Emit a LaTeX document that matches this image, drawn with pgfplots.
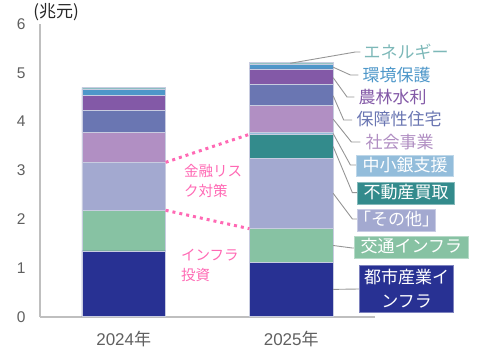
\documentclass[border=0pt]{standalone}
\usepackage{pgfplots}
\pgfplotsset{compat=1.18}
\usepackage{fontspec}
\setmainfont{Liberation Sans}
\newfontfamily\cjk{Noto Sans CJK JP}
\definecolor{cToshi}{HTML}{283193}
\definecolor{cKotsu}{HTML}{87C2A3}
\definecolor{cSonota}{HTML}{A3A9D0}
\definecolor{cFudo}{HTML}{338B8C}
\definecolor{cChusho}{HTML}{93BDDB}
\definecolor{cShakai}{HTML}{B18FC3}
\definecolor{cHosho}{HTML}{6A76B2}
\definecolor{cNorin}{HTML}{8359A7}
\definecolor{cKankyo}{HTML}{4E97C9}
\definecolor{cEne}{HTML}{93C4C2}
\definecolor{cEneT}{HTML}{7DB8B8}
\definecolor{sepc}{HTML}{C8CCE0}
\definecolor{axisgray}{HTML}{BFBFBF}
\definecolor{tickgray}{HTML}{606060}
\definecolor{leadgray}{HTML}{969696}
\definecolor{pinkc}{HTML}{FF69B4}
\begin{document}
\begin{tikzpicture}
\begin{axis}[
  at={(40pt,39.3pt)}, anchor=south west, scale only axis,
  width=335pt, height=292.7pt,
  xmin=-0.5, xmax=1.5, ymin=0, ymax=6,
  ybar stacked, bar width=0.5,
  axis x line=bottom, axis y line=left,
  axis line style={draw=axisgray, line width=2pt, -},
  xtick={0,1}, xticklabels={2024{\cjk 年},2025{\cjk 年}},
  ytick={0,1,2,3,4,5,6},
  major tick length=0pt,
  tick style={draw=none},
  ticklabel style={text=tickgray},
  yticklabel style={font=\fontsize{15.5}{15.5}\selectfont, xshift=-11pt},
  xticklabel style={font=\fontsize{17}{17}\selectfont, yshift=-11pt},
  /pgf/number format/assume math mode=true,
  clip=false,
]
\addplot[fill=cToshi, draw=sepc, line width=0.6pt] coordinates {(0,1.35) (1,1.12)};
\addplot[fill=cKotsu, draw=sepc, line width=0.6pt] coordinates {(0,0.83) (1,0.69)};
\addplot[fill=cSonota, draw=sepc, line width=0.6pt] coordinates {(0,0.98) (1,1.44)};
\addplot[fill=cFudo, draw=sepc, line width=0.6pt] coordinates {(0,0) (1,0.49)};
\addplot[fill=cChusho, draw=sepc, line width=0.6pt] coordinates {(0,0) (1,0.04)};
\addplot[fill=cShakai, draw=sepc, line width=0.6pt] coordinates {(0,0.62) (1,0.55)};
\addplot[fill=cHosho, draw=sepc, line width=0.6pt] coordinates {(0,0.45) (1,0.43)};
\addplot[fill=cNorin, draw=sepc, line width=0.6pt] coordinates {(0,0.31) (1,0.32)};
\addplot[fill=cKankyo, draw=sepc, line width=0.6pt] coordinates {(0,0.13) (1,0.10)};
\addplot[fill=cEne, draw=sepc, line width=0.6pt] coordinates {(0,0.03) (1,0.03)};
\end{axis}
\begin{axis}[
  at={(40pt,39.3pt)}, anchor=south west, scale only axis,
  width=335pt, height=292.7pt,
  xmin=-0.5, xmax=1.5, ymin=0, ymax=6,
  hide axis, clip=false,
]
% pink dotted connectors
\addplot[pinkc, line width=3pt, dash pattern=on 3pt off 4pt] coordinates {(0.25,3.165) (0.75,3.739)};
\addplot[pinkc, line width=3pt, dash pattern=on 3pt off 4pt] coordinates {(0.25,2.181) (0.75,1.804)};
% leader lines
\addplot[leadgray, line width=0.9pt] coordinates {(0.994,5.195) (1.383,5.426) (1.413,5.426)};
\addplot[leadgray, line width=0.9pt] coordinates {(1.25,5.115) (1.353,4.955) (1.401,4.955)};
\addplot[leadgray, line width=0.9pt] coordinates {(1.25,4.90) (1.333,4.504) (1.377,4.504)};
\addplot[leadgray, line width=0.9pt] coordinates {(1.25,4.53) (1.313,4.033) (1.363,4.033)};
\addplot[leadgray, line width=0.9pt] coordinates {(1.25,4.05) (1.359,3.582) (1.413,3.582)};
\addplot[leadgray, line width=0.9pt] coordinates {(1.25,3.755) (1.353,3.110) (1.389,3.110)};
\addplot[leadgray, line width=0.9pt] coordinates {(1.25,3.49) (1.365,2.542) (1.395,2.542)};
\addplot[leadgray, line width=0.9pt] coordinates {(1.25,2.53) (1.365,2.003) (1.395,2.003)};
\addplot[leadgray, line width=0.9pt] coordinates {(1.25,1.46) (1.365,1.408) (1.377,1.408)};
\addplot[leadgray, line width=0.9pt] coordinates {(1.25,0.56) (1.407,0.568)};
% plain labels
\node[anchor=west, inner sep=0pt, text=cEneT, font=\cjk\fontsize{17}{17}\selectfont] at (axis cs:1.431,5.426) {エネルギー};
\node[anchor=west, inner sep=0pt, text=cKankyo, font=\cjk\fontsize{17}{17}\selectfont] at (axis cs:1.425,4.955) {環境保護};
\node[anchor=west, inner sep=0pt, text=cNorin, font=\cjk\fontsize{17}{17}\selectfont] at (axis cs:1.401,4.504) {農林水利};
\node[anchor=west, inner sep=0pt, text=cHosho, font=\cjk\fontsize{17}{17}\selectfont] at (axis cs:1.389,4.053) {保障性住宅};
\node[anchor=west, inner sep=0pt, text=cShakai, font=\cjk\fontsize{17}{17}\selectfont] at (axis cs:1.443,3.582) {社会事業};
% boxed labels
\node[anchor=west, fill=cChusho, draw=cChusho!60!white, text=white, inner xsep=6pt, inner ysep=2.5pt, text height=13pt, text depth=3pt, font=\cjk\fontsize{17}{17}\selectfont] at (axis cs:1.389,3.089) {中小銀支援};
\node[anchor=west, fill=cFudo, draw=cFudo!60!white, text=white, inner xsep=6pt, inner ysep=3pt, text height=13pt, text depth=3pt, font=\cjk\fontsize{17}{17}\selectfont] at (axis cs:1.395,2.526) {不動産買取};
\node[anchor=west, fill=cSonota, draw=cSonota!60!white, text=white, inner xsep=5pt, inner ysep=3pt, text height=13pt, text depth=3pt, font=\cjk\fontsize{17}{17}\selectfont] at (axis cs:1.395,1.982) {｢その他｣};
\node[anchor=west, fill=cKotsu, draw=cKotsu!60!white, text=white, inner xsep=6pt, inner ysep=3pt, text height=13pt, text depth=3pt, font=\cjk\fontsize{17}{17}\selectfont] at (axis cs:1.377,1.419) {交通インフラ};
\node[anchor=west, fill=cToshi, draw=cToshi!60!white, text=white, inner xsep=4.5pt, inner ysep=4pt, align=center, font=\cjk\fontsize{17}{24}\selectfont] at (axis cs:1.407,0.568) {都市産業イ\\ンフラ};
% pink labels
\node[anchor=west, inner sep=0pt, text=pinkc, align=left, font=\cjk\fontsize{14.5}{20}\selectfont] at (axis cs:0.359,2.782) {金融リス\\ク対策};
\node[anchor=west, inner sep=0pt, text=pinkc, align=left, font=\cjk\fontsize{14.5}{20}\selectfont] at (axis cs:0.341,1.05) {インフラ\\投資};
\end{axis}
\node[font=\cjk\fontsize{17}{17}\selectfont, text=black!85] at (56pt,344pt) {(兆元)};
\pgfresetboundingbox
\useasboundingbox (0pt,0pt) rectangle (502pt,356pt);
\end{tikzpicture}
\end{document}
